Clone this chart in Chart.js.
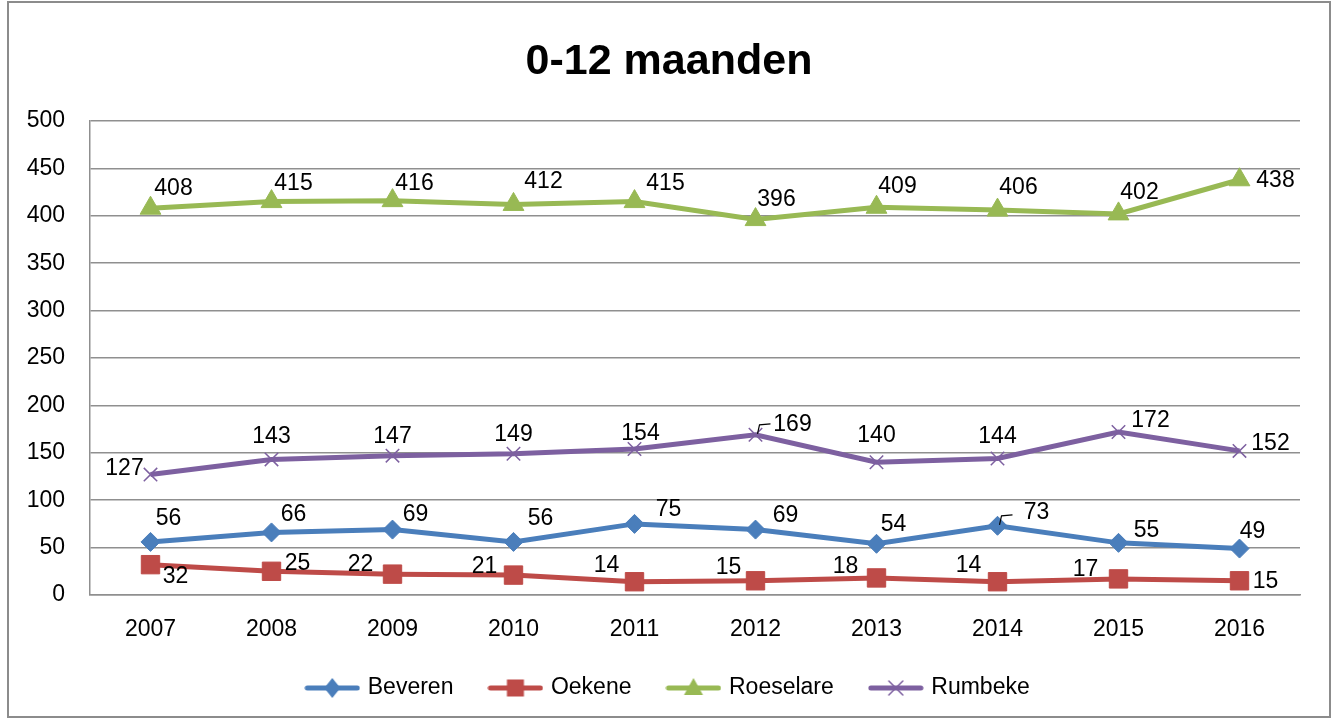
<!DOCTYPE html>
<html>
<head>
<meta charset="utf-8">
<script src="https://cdn.jsdelivr.net/npm/chart.js@4.4.1/dist/chart.umd.min.js"></script>
<style>
html,body{margin:0;padding:0;background:#fff;}
#wrap{width:1338px;height:720px;position:relative;}
</style>
</head>
<body>
<div id="wrap"><canvas id="c" width="1338" height="720"></canvas></div>
<script>
const years = ['2007','2008','2009','2010','2011','2012','2013','2014','2015','2016'];
const beveren   = [56, 66, 69, 56, 75, 69, 54, 73, 55, 49];
const oekene    = [32, 25, 22, 21, 14, 15, 18, 14, 17, 15];
const roeselare = [408, 415, 416, 412, 415, 396, 409, 406, 402, 438];
const rumbeke   = [127, 143, 147, 149, 154, 169, 140, 144, 172, 152];
const yTicks    = [0, 50, 100, 150, 200, 250, 300, 350, 400, 450, 500];

const FONT = 'Liberation Sans, Arial, sans-serif';
const colors = {
  Beveren: '#4A7EBB',
  Oekene: '#BE4B48',
  Roeselare: '#98B954',
  Rumbeke: '#7D60A0'
};

// label offsets (dx, dy) relative to each point, for text placement only
const labelOffsets = {
  Beveren:   [[18,-23],[22,-18],[23,-15],[27,-23],[34,-14],[30,-14],[17,-19],[39,-13],[28,-12],[13,-17]],
  Oekene:    [[25,12],[26,-8],[-32,-9],[-29,-8],[-28,-16],[-27,-13],[-31,-11],[-29,-16],[-33,-9],[26,1]],
  Roeselare: [[23,-20],[22,-18],[22,-17],[30,-23],[31,-18],[21,-20],[21,-21],[21,-22],[21,-21],[36,1]],
  Rumbeke:   [[-26,-6],[0,-23],[0,-19],[0,-19],[6,-15],[37,-10],[0,-27],[0,-22],[32,-11],[31,-7]]
};
// labels that have a small leader line
const leaders = { Rumbeke: [5], Beveren: [7] };

function legendImage(color, style) {
  const c = document.createElement('canvas');
  c.width = 56; c.height = 24;
  const ctx = c.getContext('2d');
  ctx.strokeStyle = color; ctx.fillStyle = color;
  ctx.lineWidth = 5; ctx.lineCap = 'round';
  ctx.beginPath(); ctx.moveTo(3, 12); ctx.lineTo(53, 12); ctx.stroke();
  const cx = 28, cy = 12;
  ctx.beginPath();
  if (style === 'rectRot') {
    ctx.moveTo(cx, cy - 10); ctx.lineTo(cx + 8, cy); ctx.lineTo(cx, cy + 10); ctx.lineTo(cx - 8, cy); ctx.closePath(); ctx.fill();
  } else if (style === 'rect') {
    ctx.fillRect(cx - 8.5, cy - 8.5, 17, 17);
  } else if (style === 'triangle') {
    ctx.moveTo(cx, cy - 10); ctx.lineTo(cx + 9.5, cy + 7); ctx.lineTo(cx - 9.5, cy + 7); ctx.closePath(); ctx.fill();
  } else if (style === 'crossRot') {
    ctx.lineWidth = 1.5;
    ctx.moveTo(cx - 7, cy - 7); ctx.lineTo(cx + 7, cy + 7);
    ctx.moveTo(cx + 7, cy - 7); ctx.lineTo(cx - 7, cy + 7); ctx.stroke();
  }
  return c;
}

function ds(label, data, style, radius, borderW) {
  return {
    label: label,
    data: data,
    yAxisID: 'y',
    borderColor: colors[label],
    backgroundColor: colors[label],
    borderWidth: 5,
    tension: 0,
    pointStyle: style,
    pointRadius: radius,
    pointHoverRadius: radius,
    pointBorderWidth: borderW,
    pointBackgroundColor: colors[label],
    pointBorderColor: colors[label],
    clip: false,
    _legendImg: legendImage(colors[label], style)
  };
}

const frame = {
  id: 'frame',
  beforeDraw(chart) {
    const ctx = chart.ctx;
    ctx.save();
    ctx.fillStyle = '#fff';
    ctx.fillRect(0, 0, chart.width, chart.height);
    ctx.strokeStyle = '#8c8c8c';
    ctx.lineWidth = 2;
    ctx.strokeRect(8, 2, 1322, 715);
    ctx.restore();
  }
};

const valueLabels = {
  id: 'valueLabels',
  afterDatasetsDraw(chart) {
    const ctx = chart.ctx;
    ctx.save();
    ctx.font = '23px ' + FONT;
    ctx.fillStyle = '#000';
    ctx.strokeStyle = '#000';
    ctx.lineWidth = 1.2;
    ctx.textAlign = 'center';
    ctx.textBaseline = 'middle';
    chart.data.datasets.forEach((d, i) => {
      const meta = chart.getDatasetMeta(i);
      const offs = labelOffsets[d.label];
      const lead = leaders[d.label] || [];
      meta.data.forEach((pt, j) => {
        const o = offs[j];
        ctx.fillText(String(d.data[j]), pt.x + o[0], pt.y + o[1]);
        if (lead.indexOf(j) >= 0) {
          ctx.beginPath();
          ctx.moveTo(pt.x + 2, pt.y - 1);
          ctx.lineTo(pt.x + 4, pt.y - 10);
          ctx.lineTo(pt.x + 15, pt.y - 11);
          ctx.stroke();
        }
      });
    });
    ctx.restore();
  }
};

new Chart(document.getElementById('c'), {
  type: 'line',
  data: {
    labels: years,
    datasets: [
      ds('Beveren', beveren, 'rectRot', 9.5, 1),
      ds('Oekene', oekene, 'rect', 13, 1),
      ds('Roeselare', roeselare, 'triangle', 12, 1),
      ds('Rumbeke', rumbeke, 'crossRot', 9.5, 1.5)
    ]
  },
  options: {
    responsive: false,
    animation: false,
    events: [],
    layout: { padding: { left: 10, right: 10, top: 0, bottom: 10.5 } },
    plugins: {
      title: {
        display: true,
        text: '0-12 maanden',
        color: '#000',
        font: { family: FONT, size: 43, weight: 'bold', lineHeight: 1.2 },
        padding: { top: 36.2, bottom: 33.2 }
      },
      legend: {
        display: true,
        position: 'bottom',
        labels: {
          color: '#000',
          font: { family: FONT, size: 23 },
          usePointStyle: true,
          pointStyleWidth: 48,
          boxHeight: 23,
          padding: 38,
          generateLabels(chart) {
            return chart.data.datasets.map((d, i) => ({
              text: d.label,
              pointStyle: d._legendImg,
              fillStyle: d.borderColor,
              strokeStyle: d.borderColor,
              lineWidth: 0,
              hidden: false,
              datasetIndex: i
            }));
          }
        }
      },
      tooltip: { enabled: false }
    },
    scales: {
      x: {
        offset: true,
        grid: { display: false, drawTicks: false },
        border: { display: true, color: '#8f8f8f', width: 1.5 },
        ticks: { color: '#000', font: { family: FONT, size: 23 }, padding: 21, maxRotation: 0 },
        afterFit(s) { s.height = 43.5; }
      },
      y: {
        min: 0, max: 500,
        afterBuildTicks(s) { s.ticks = yTicks.map(v => ({ value: v })); },
        grid: { color: '#8f8f8f', lineWidth: 1.5, drawTicks: false },
        border: { display: true, color: '#8f8f8f', width: 1.5 },
        ticks: { color: '#000', font: { family: FONT, size: 23 }, padding: 25 },
        afterFit(s) { s.width = 80; }
      },
      yRight: {
        type: 'linear',
        position: 'right',
        display: true,
        min: 0, max: 500,
        grid: { display: false, drawTicks: false },
        border: { display: false },
        ticks: { display: false },
        afterFit(s) { s.width = 28; }
      }
    }
  },
  plugins: [frame, valueLabels]
});
</script>
</body>
</html>
